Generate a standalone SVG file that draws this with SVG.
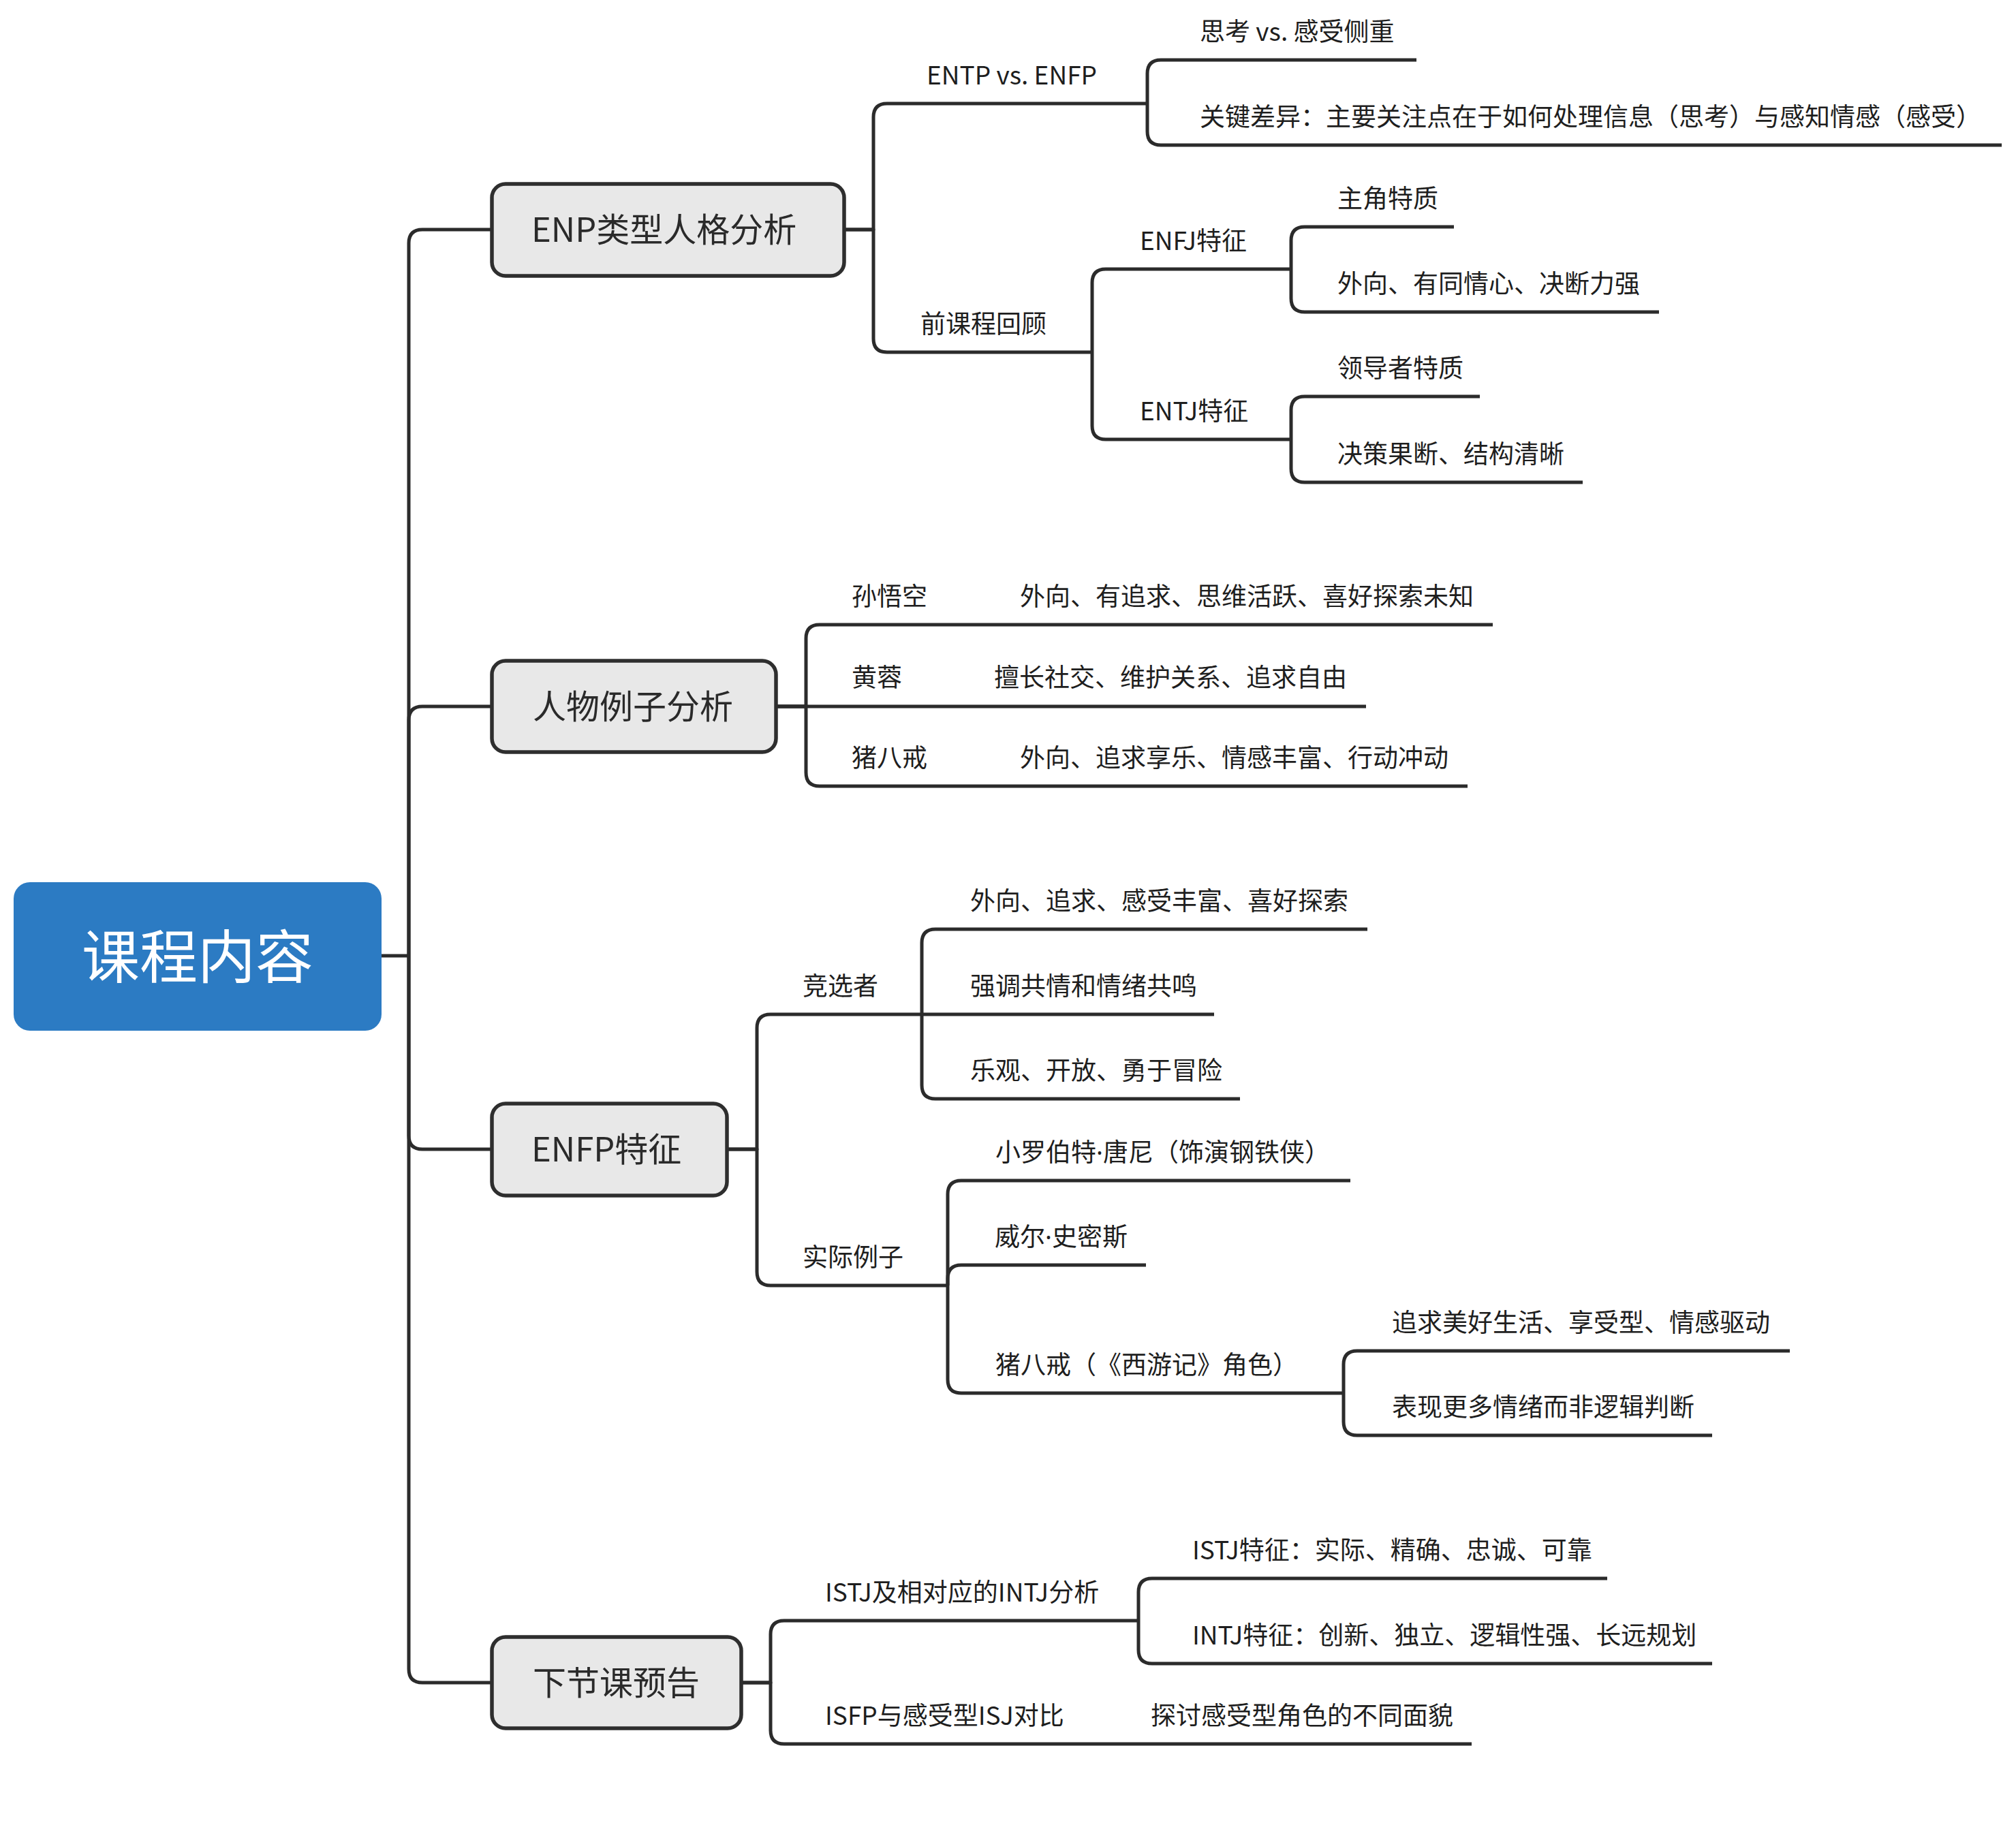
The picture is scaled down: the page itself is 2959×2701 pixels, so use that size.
<svg xmlns="http://www.w3.org/2000/svg" width="2959" height="2701" viewBox="0 0 2959 2701">
<style>
.ln{fill:none;stroke:#2b2b2b;stroke-width:5;stroke-linecap:butt;stroke-linejoin:round}
.box{fill:#e8e8e8;stroke:#2e2e2e;stroke-width:5.5}
.t1{font-family:"Noto Sans CJK SC","Noto Sans",sans-serif;font-size:49px;fill:#2a2a2a}
.t2{font-family:"Noto Sans CJK SC","Noto Sans",sans-serif;font-size:37px;fill:#1e1e1e;text-spacing-trim:space-all}
.dot{font-family:"Noto Sans","Liberation Sans",sans-serif}
.root{font-family:"Noto Sans CJK SC","Noto Sans",sans-serif;font-size:85px;fill:#ffffff;text-anchor:middle}
</style>
<rect width="2959" height="2701" fill="#ffffff"/>
<g id="connectors">
<path class="ln" d="M560 1403 H600"/>
<path class="ln" d="M600 1403 V357 Q600 337 620 337 H722"/>
<path class="ln" d="M600 1403 V1057 Q600 1037 620 1037 H722"/>
<path class="ln" d="M600 1403 V1667 Q600 1687 620 1687 H722"/>
<path class="ln" d="M600 1403 V2450 Q600 2470 620 2470 H722"/>
<path class="ln" d="M1239 337 H1282 V172 Q1282 152 1302 152 H1684"/>
<path class="ln" d="M1239 337 H1282 V497 Q1282 517 1302 517 H1603"/>
<path class="ln" d="M1684 152 V108 Q1684 88 1704 88 H2079"/>
<path class="ln" d="M1684 152 V193 Q1684 213 1704 213 H2938"/>
<path class="ln" d="M1603 517 V415 Q1603 395 1623 395 H1895"/>
<path class="ln" d="M1603 517 V625 Q1603 645 1623 645 H1895"/>
<path class="ln" d="M1895 395 V353 Q1895 333 1915 333 H2134"/>
<path class="ln" d="M1895 395 V438 Q1895 458 1915 458 H2435"/>
<path class="ln" d="M1895 645 V602 Q1895 582 1915 582 H2172"/>
<path class="ln" d="M1895 645 V688 Q1895 708 1915 708 H2323"/>
<path class="ln" d="M1139 1037 H1183 V937 Q1183 917 1203 917 H2191"/>
<path class="ln" d="M1139 1037 H2005"/>
<path class="ln" d="M1139 1037 H1183 V1134 Q1183 1154 1203 1154 H2154"/>
<path class="ln" d="M1067 1687 H1111 V1509 Q1111 1489 1131 1489 H1353"/>
<path class="ln" d="M1067 1687 H1111 V1867 Q1111 1887 1131 1887 H1391"/>
<path class="ln" d="M1353 1489 V1384 Q1353 1364 1373 1364 H2007"/>
<path class="ln" d="M1353 1489 H1782"/>
<path class="ln" d="M1353 1489 V1593 Q1353 1613 1373 1613 H1820"/>
<path class="ln" d="M1391 1887 V1753 Q1391 1733 1411 1733 H1982"/>
<path class="ln" d="M1391 1887 V1877 Q1391 1857 1411 1857 H1682"/>
<path class="ln" d="M1391 1887 V2025 Q1391 2045 1411 2045 H1972"/>
<path class="ln" d="M1972 2045 V2003 Q1972 1983 1992 1983 H2627"/>
<path class="ln" d="M1972 2045 V2087 Q1972 2107 1992 2107 H2513"/>
<path class="ln" d="M1088 2470 H1131 V2399 Q1131 2379 1151 2379 H1671"/>
<path class="ln" d="M1088 2470 H1131 V2540 Q1131 2560 1151 2560 H2160"/>
<path class="ln" d="M1671 2379 V2337 Q1671 2317 1691 2317 H2359"/>
<path class="ln" d="M1671 2379 V2422 Q1671 2442 1691 2442 H2513"/>
</g>
<g id="root">
<rect x="20" y="1295" width="540" height="218" rx="24" fill="#2c7bc3"/>
<text class="root" x="290" y="1436">课程内容</text>
</g>
<g id="n-enp">
<rect class="box" x="722" y="270" width="517" height="135" rx="20"/>
<text class="t1" x="780" y="355">ENP类型人格分析</text>
</g>
<g id="n-renwu">
<rect class="box" x="722" y="970" width="417" height="134" rx="20"/>
<text class="t1" x="782" y="1055">人物例子分析</text>
</g>
<g id="n-enfp">
<rect class="box" x="722" y="1620" width="345" height="135" rx="20"/>
<text class="t1" x="780" y="1705">ENFP特征</text>
</g>
<g id="n-next">
<rect class="box" x="722" y="2403" width="366" height="134" rx="20"/>
<text class="t1" x="782" y="2488">下节课预告</text>
</g>
<g id="n-entp"><text class="t2" x="1360" y="124">ENTP vs. ENFP</text></g>
<g id="n-sikao"><text class="t2" x="1761" y="60">思考 vs. 感受侧重</text></g>
<g id="n-guanjian"><text class="t2" x="1761" y="185">关键差异：主要关注点在于如何处理信息（思考）与感知情感（感受）</text></g>
<g id="n-qian"><text class="t2" x="1351" y="489">前课程回顾</text></g>
<g id="n-enfj"><text class="t2" x="1673" y="367">ENFJ特征</text></g>
<g id="n-entj"><text class="t2" x="1673" y="617">ENTJ特征</text></g>
<g id="n-zhujue"><text class="t2" x="1963" y="305">主角特质</text></g>
<g id="n-enfj2"><text class="t2" x="1963" y="430">外向、有同情心、决断力强</text></g>
<g id="n-lingdao"><text class="t2" x="1963" y="554">领导者特质</text></g>
<g id="n-entj2"><text class="t2" x="1963" y="680">决策果断、结构清晰</text></g>
<g id="n-sun"><text class="t2" x="1250" y="889">孙悟空</text></g>
<g id="n-sun2"><text class="t2" x="1497" y="889">外向、有追求、思维活跃、喜好探索未知</text></g>
<g id="n-huang"><text class="t2" x="1250" y="1008">黄蓉</text></g>
<g id="n-huang2"><text class="t2" x="1459" y="1008">擅长社交、维护关系、追求自由</text></g>
<g id="n-zhu"><text class="t2" x="1250" y="1126">猪八戒</text></g>
<g id="n-zhu2"><text class="t2" x="1497" y="1126">外向、追求享乐、情感丰富、行动冲动</text></g>
<g id="n-jingxuan"><text class="t2" x="1178" y="1461">竞选者</text></g>
<g id="n-jx1"><text class="t2" x="1424" y="1336">外向、追求、感受丰富、喜好探索</text></g>
<g id="n-jx2"><text class="t2" x="1424" y="1461">强调共情和情绪共鸣</text></g>
<g id="n-jx3"><text class="t2" x="1424" y="1585">乐观、开放、勇于冒险</text></g>
<g id="n-shiji"><text class="t2" x="1178" y="1859">实际例子</text></g>
<g id="n-sj1"><text class="t2" x="1461" y="1705">小罗伯特<tspan class="dot">·</tspan>唐尼（饰演钢铁侠）</text></g>
<g id="n-sj2"><text class="t2" x="1460" y="1829">威尔<tspan class="dot">·</tspan>史密斯</text></g>
<g id="n-sj3"><text class="t2" x="1461" y="2017">猪八戒（《西游记》角色）</text></g>
<g id="n-sj3a"><text class="t2" x="2043" y="1955">追求美好生活、享受型、情感驱动</text></g>
<g id="n-sj3b"><text class="t2" x="2043" y="2079">表现更多情绪而非逻辑判断</text></g>
<g id="n-istj"><text class="t2" x="1211" y="2351">ISTJ及相对应的INTJ分析</text></g>
<g id="n-istj1"><text class="t2" x="1750" y="2289">ISTJ特征：实际、精确、忠诚、可靠</text></g>
<g id="n-istj2"><text class="t2" x="1750" y="2414">INTJ特征：创新、独立、逻辑性强、长远规划</text></g>
<g id="n-isfp"><text class="t2" x="1211" y="2532">ISFP与感受型ISJ对比</text></g>
<g id="n-isfp1"><text class="t2" x="1689" y="2532">探讨感受型角色的不同面貌</text></g>
</svg>
